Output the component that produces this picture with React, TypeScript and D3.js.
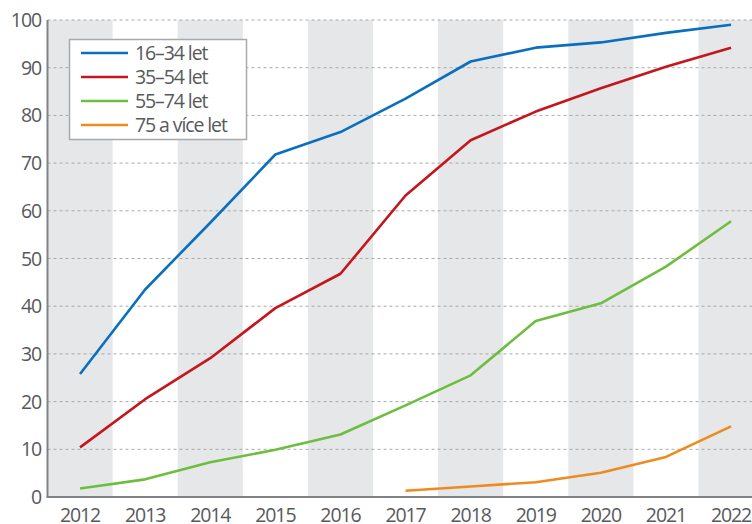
import React from "react";
import * as d3 from "d3";

const years = ["2012","2013","2014","2015","2016","2017","2018","2019","2020","2021","2022"];
const s1634 = [25.8, 43.5, 57.5, 71.8, 76.5, 83.5, 91.3, 94.2, 95.3, 97.3, 99.0];
const s3554 = [10.4, 20.5, 29.1, 39.6, 46.8, 63.2, 74.8, 80.8, 85.7, 90.2, 94.2];
const s5574 = [1.8, 3.7, 7.3, 9.9, 13.1, 19.2, 25.5, 36.9, 40.6, 48.3, 57.8];
const s75 = [null, null, null, null, null, 1.3, 2.2, 3.1, 5.1, 8.4, 14.8];
const seriesNames = ["16–34 let", "35–54 let", "55–74 let", "75 a více let"];
const seriesColors = ["#0a6fbe", "#c4161c", "#6dbe3e", "#ee8b20"];
const yTicks = [0, 10, 20, 30, 40, 50, 60, 70, 80, 90, 100];

export default function App() {
  const W = 752, H = 524;
  const left = 47.5, top = 20, bottom = 497;
  const step = 65.1;
  const x = d3.scaleBand<string>().domain(years).range([left, left + step * years.length]).padding(0);
  const y = d3.scaleLinear().domain([0, 100]).range([bottom, top]);
  const all = [s1634, s3554, s5574, s75];
  const line = d3.line<number | null>()
    .defined((d) => d !== null)
    .x((_, i) => (x(years[i]) as number) + x.bandwidth() / 2)
    .y((d) => y(d as number));
  const font = "'Open Sans', 'Noto Sans', sans-serif";
  const txt = "#58595b";
  const fs = 19.5;
  const ls = -1.1;
  return (
    <svg width={W} height={H} style={{ position: "absolute", left: 0, top: 0, background: "#fff" }} fontFamily={font}>
      <defs>
        <clipPath id="c"><rect x={0} y={0} width={W} height={H} /></clipPath>
      </defs>
      <g clipPath="url(#c)">
        {years.map((yr, i) => i % 2 === 0 ? (
          <rect key={yr} x={x(yr)} y={top} width={x.bandwidth()} height={bottom - top} fill="#e6e7e8" />
        ) : null)}
        {yTicks.filter((t) => t > 0).map((t) => (
          <line key={t} x1={left} x2={W} y1={y(t)} y2={y(t)} stroke="#a7a9ac" strokeWidth={1} strokeDasharray="3,3" />
        ))}
        {all.map((s, i) => (
          <path key={i} d={line(s) || ""} fill="none" stroke={seriesColors[i]} strokeWidth={2.6} strokeLinejoin="round" />
        ))}
        <line x1={left} x2={left} y1={top} y2={bottom} stroke="#808285" strokeWidth={2} />
        <line x1={left - 1} x2={W} y1={bottom} y2={bottom} stroke="#808285" strokeWidth={2} />
      </g>
      {yTicks.map((t) => (
        <text key={t} x={41} y={y(t) + 7} textAnchor="end" fontSize={fs} fill={txt} letterSpacing={ls}>{t}</text>
      ))}
      {years.map((yr) => (
        <text key={yr} x={(x(yr) as number) + x.bandwidth() / 2} y={522} textAnchor="middle" fontSize={fs} fill={txt} letterSpacing={ls}>{yr}</text>
      ))}
      <g>
        <rect x={69.5} y={39.5} width={177} height={100} fill="#fff" stroke="#a7a9ac" strokeWidth={1.5} />
        {seriesNames.map((n, i) => (
          <g key={n}>
            <line x1={81} x2={128} y1={53 + i * 24} y2={53 + i * 24} stroke={seriesColors[i]} strokeWidth={2.6} />
            <text x={135} y={53 + i * 24 + 7} fontSize={fs} fill={txt} letterSpacing={ls}>{n}</text>
          </g>
        ))}
      </g>
    </svg>
  );
}
